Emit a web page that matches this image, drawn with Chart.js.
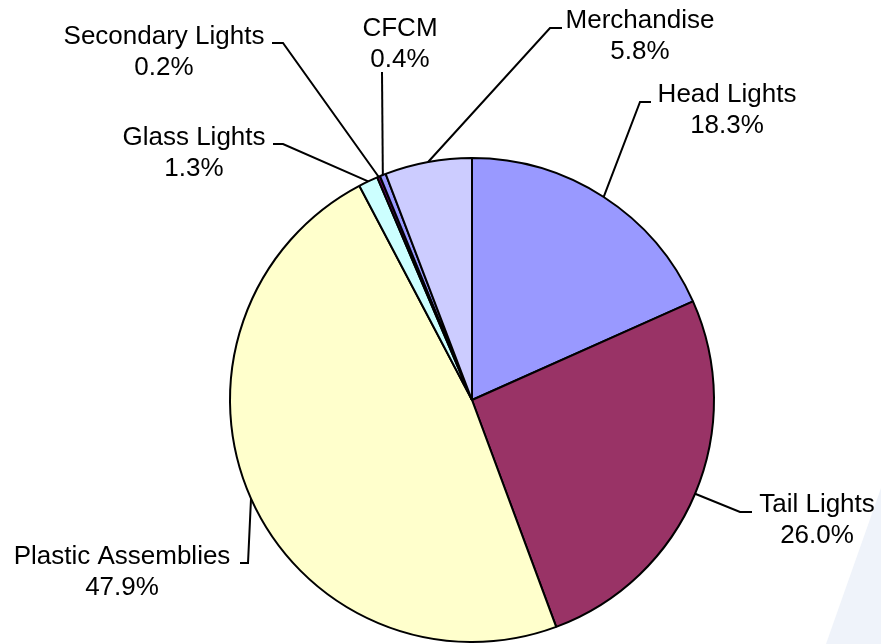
<!DOCTYPE html>
<html>
<head>
<meta charset="utf-8">
<script src="https://cdn.jsdelivr.net/npm/chart.js@4.4.0/dist/chart.umd.min.js"></script>
<style>
    html, body { margin: 0; padding: 0; background: #ffffff; }
</style>
</head>
<body>
<canvas id="myChart" width="881" height="644"></canvas>
<script>
// datos (en sentido horario desde las 12)
const categorias = ['Head Lights', 'Tail Lights', 'Plastic Assemblies', 'Glass Lights', 'Secondary Lights', 'CFCM', 'Merchandise'];
const porcentajes = [18.3, 26.0, 47.9, 1.3, 0.2, 0.4, 5.8];
const etiquetasPct = ['18.3%', '26.0%', '47.9%', '1.3%', '0.2%', '0.4%', '5.8%'];
const colores = ['#9999FF', '#993366', '#FFFFCC', '#CCFFFF', '#660066', '#9999FF', '#CCCCFF'];

// posicion de cada etiqueta: centro del texto, linea base, codo de la linea guia y fin del trazo corto
const posEtiquetas = [
    { cx: 727, by: 102, ex: 640, ey: 102, tx: 651 },
    { cx: 817, by: 512, ex: 740, ey: 512, tx: 752 },
    { cx: 122, by: 564, ex: 248, ey: 563, tx: 240 },
    { cx: 194, by: 145, ex: 283, ey: 144, tx: 273 },
    { cx: 164, by: 44,  ex: 283, ey: 43,  tx: 272 },
    { cx: 400, by: 36,  ex: 382, ey: 72,  tx: 382 },
    { cx: 640, by: 28,  ex: 550, ey: 28,  tx: 562 }
];

const fondo = {
    id: 'fondo',
    beforeDraw(chart) {
        const ctx = chart.ctx;
        ctx.save();
        ctx.fillStyle = '#ffffff';
        ctx.fillRect(0, 0, chart.width, chart.height);
        ctx.fillStyle = '#EFF3FA';
        ctx.beginPath();
        ctx.moveTo(826, chart.height);
        ctx.lineTo(chart.width, 488);
        ctx.lineTo(chart.width, chart.height);
        ctx.closePath();
        ctx.fill();
        ctx.restore();
    }
};

const etiquetas = {
    id: 'etiquetas',
    afterDatasetsDraw(chart) {
        const ctx = chart.ctx;
        const meta = chart.getDatasetMeta(0);
        ctx.save();
        ctx.strokeStyle = '#000000';
        ctx.lineWidth = 2;
        ctx.fillStyle = '#000000';
        ctx.font = '26px "Liberation Sans", Arial, sans-serif';
        ctx.textAlign = 'center';
        ctx.textBaseline = 'alphabetic';
        meta.data.forEach((arc, i) => {
            const p = arc.getProps(['x', 'y', 'startAngle', 'endAngle', 'outerRadius'], true);
            const mid = (p.startAngle + p.endAngle) / 2;
            const px = p.x + Math.cos(mid) * p.outerRadius;
            const py = p.y + Math.sin(mid) * p.outerRadius;
            const e = posEtiquetas[i];
            ctx.beginPath();
            ctx.moveTo(px, py);
            ctx.lineTo(e.ex, e.ey);
            ctx.lineTo(e.tx, e.ey);
            ctx.stroke();
            ctx.fillText(categorias[i], e.cx, e.by);
            ctx.fillText(etiquetasPct[i], e.cx, e.by + 31);
        });
        ctx.restore();
    }
};

const data = {
    labels: categorias,
    datasets: [{
        data: porcentajes,
        backgroundColor: colores,
        borderColor: '#000000',
        borderWidth: 2
    }]
};

const config = {
    type: 'pie',
    data: data,
    options: {
        responsive: false,
        animation: false,
        layout: { padding: { left: 63, right: 0, top: 157, bottom: 1 } },
        plugins: {
            legend: { display: false },
            tooltip: { enabled: false }
        }
    },
    plugins: [fondo, etiquetas]
};

const myChart = new Chart(
    document.getElementById('myChart'),
    config
);
</script>
</body>
</html>
